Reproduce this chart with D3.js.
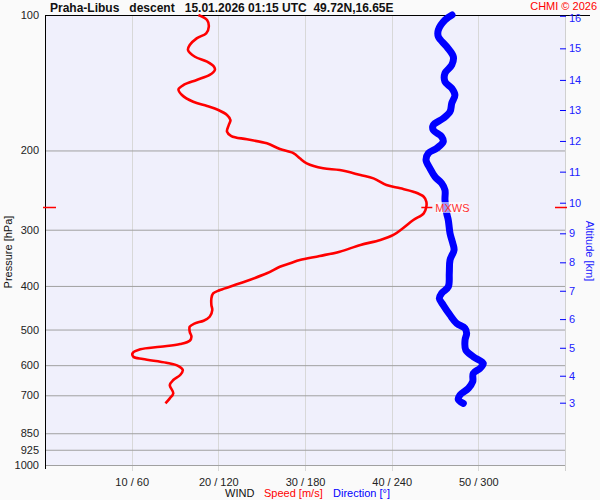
<!DOCTYPE html>
<html>
<head>
<meta charset="utf-8">
<script src="https://cdn.jsdelivr.net/npm/d3@7"></script>
<style>
  body { margin: 0; background: #fafafa; }
  svg { display: block; font-family: "Liberation Sans", Arial, sans-serif; }
</style>
</head>
<body>
<div id="chart"></div>
<script>
// wind speed profile [hPa, m/s]
const speedPressure = [100, 102.6, 106.2, 109.8, 112.7, 116.6, 119.6, 123.8, 127.0, 130.3, 132.5, 135.9, 139.4, 143.0, 146.3, 150.6, 155.9, 159.3, 162.6, 166.8, 171.2, 175.6, 181.7, 185.8, 188.9, 192.8, 198.5, 202.9, 208.2, 213.6, 219.1, 221.1, 226.8, 230.7, 238.7, 242.7, 247.0, 253.4, 260.0, 266.7, 275.9, 285.5, 297.8, 308.2, 316.2, 324.4, 335.7, 343.2, 350.3, 356.3, 362.5, 375.0, 394.7, 408.5, 415.5, 426.3, 441.1, 452.5, 468.3, 478.0, 484.4, 492.9, 505.6, 518.7, 529.5, 538.5, 546.0, 553.3, 564.8, 574.6, 581.5, 592.6, 602.6, 615.1, 631.0, 647.4, 664.2, 693.0, 711.0, 729.5]
const speedValues = [17.7, 18.7, 18.9, 18.6, 17.5, 16.7, 16.5, 17.3, 18.7, 19.5, 19.6, 19.0, 17.5, 16.0, 15.4, 15.8, 17.1, 18.7, 20.0, 21.0, 21.4, 21.2, 21.0, 21.5, 23.3, 25.6, 27.1, 28.7, 29.4, 30.2, 32.1, 34.0, 36.4, 37.9, 39.4, 41.0, 42.5, 43.7, 44.0, 44.0, 43.7, 42.5, 41.3, 40.2, 38.7, 36.4, 34.0, 31.7, 29.4, 28.3, 27.1, 25.6, 22.5, 20.2, 19.4, 19.2, 19.2, 19.3, 19.0, 18.3, 17.3, 16.7, 16.7, 16.9, 16.7, 15.6, 13.3, 11.0, 10.1, 10.2, 11.3, 14.0, 15.4, 15.9, 15.6, 14.8, 14.4, 14.8, 14.4, 13.9]

// wind direction profile [hPa, deg]
const dirPressure = [100, 102.6, 108.0, 111.7, 117.6, 123.8, 129.2, 134.7, 140.6, 145.5, 150.6, 157.1, 164.0, 169.7, 175.6, 180.2, 186.4, 191.2, 197.8, 202.9, 210.1, 219.1, 228.8, 236.6, 244.8, 257.8, 275.9, 285.5, 305.6, 321.6, 332.8, 350.3, 375.0, 401.7, 415.5, 426.3, 441.1, 464.2, 484.4, 496.9, 509.8, 527.6, 555.3, 574.6, 594.3, 609.8, 625.6, 653.1, 675.5, 699.0, 714.5, 729.5]
const dirValues = [281.8, 276.9, 272.3, 272.3, 278.1, 282.7, 281.6, 276.9, 276.9, 281.6, 283.8, 281.6, 280.4, 275.7, 268.8, 268.8, 274.6, 275.7, 271.2, 265.4, 263.8, 266.5, 270.0, 274.6, 276.9, 276.9, 278.1, 279.2, 280.4, 282.3, 283.2, 280.4, 279.9, 279.2, 274.6, 273.0, 275.7, 280.4, 285.0, 290.8, 291.9, 290.8, 291.3, 296.5, 303.4, 301.2, 296.5, 296.1, 293.1, 287.3, 286.1, 289.6]

const pressureTicks = [100, 200, 300, 400, 500, 600, 700, 850, 925, 1000]
const speedTicks = [10, 20, 30, 40, 50]
const altKm = [16, 15, 14, 13, 12, 11, 10, 9, 8, 7, 6, 5, 4, 3]
const altPressure = [100.4, 118.6, 139.4, 162.6, 190.5, 222.9, 261.3, 305.6, 354.5, 410, 474, 548.9, 633.3, 727]

const maxWind = {pressure: 266.7, speed: 44.0}

const W = 600, H = 500
const margin = {top: 15, right: 35, bottom: 35, left: 45}
const x0 = margin.left, x1 = W - margin.right
const y0 = margin.top, y1 = H - margin.bottom

const svg = d3.select("#chart").append("svg")
    .attr("width", W)
    .attr("height", H)

const y = d3.scaleLog().domain([100, 1000]).range([y0, y1])
const xs = d3.scaleLinear().domain([0, 60]).range([x0, x1])
const xd = d3.scaleLinear().domain([0, 360]).range([x0, x1])

svg.append("rect")
    .attr("x", 0).attr("y", 0).attr("width", W).attr("height", H)
    .attr("fill", "#fafafa")

svg.append("rect")
    .attr("x", x0).attr("y", y0)
    .attr("width", x1 - x0).attr("height", y1 - y0)
    .attr("fill", "#f0f0fc")

// vertical grid
svg.append("g").selectAll("line")
    .data(speedTicks)
    .join("line")
        .attr("x1", d => Math.round(xs(d)) + 0.5)
        .attr("x2", d => Math.round(xs(d)) + 0.5)
        .attr("y1", y0)
        .attr("y2", y1 + 6)
        .attr("stroke", "#d8d8d8")

svg.append("line")
    .attr("x1", x1 + 0.5).attr("x2", x1 + 0.5)
    .attr("y1", y0).attr("y2", y1 + 6)
    .attr("stroke", "#d0d0d0")

// pressure axis with horizontal grid
const yAxis = svg.append("g")
    .attr("transform", `translate(${x0},0)`)
    .call(d3.axisLeft(y)
        .tickValues(pressureTicks)
        .tickFormat(d3.format("d"))
        .tickSizeInner(-(x1 - x0))
        .tickSizeOuter(0)
        .tickPadding(6))

yAxis.select(".domain").remove()
yAxis.selectAll(".tick line")
    .attr("stroke", d => d === 100 ? "none" : "#a0a0a0")
yAxis.selectAll(".tick text")
    .attr("font-size", 11)
    .attr("font-family", "Liberation Sans, Arial, sans-serif")
    .attr("fill", "#222")

svg.append("line")
    .attr("x1", x0).attr("x2", 590)
    .attr("y1", y0 + 0.5).attr("y2", y0 + 0.5)
    .attr("stroke", "#000")

svg.append("line")
    .attr("x1", x0 + 0.5).attr("x2", x0 + 0.5)
    .attr("y1", y0).attr("y2", y1 + 4)
    .attr("stroke", "#000")

// bottom labels
const xAxis = svg.append("g")
    .attr("transform", `translate(0,${y1})`)
    .call(d3.axisBottom(xs)
        .tickValues(speedTicks)
        .tickFormat(d => `${d} / ${d * 6}`)
        .tickSize(0)
        .tickPadding(13))

xAxis.select(".domain").remove()
xAxis.selectAll(".tick text")
    .attr("font-size", 11)
    .attr("font-family", "Liberation Sans, Arial, sans-serif")
    .attr("fill", "#222")

// altitude axis
const altAxis = svg.append("g")
    .attr("transform", `translate(${x1 + 1},0)`)
    .call(d3.axisRight(y)
        .tickValues(altPressure)
        .tickFormat((d, i) => altKm[i])
        .tickSizeInner(-6)
        .tickSizeOuter(0)
        .tickPadding(3))

altAxis.select(".domain").remove()
altAxis.selectAll(".tick line").attr("stroke", "#0000ff")
altAxis.selectAll(".tick text")
    .attr("font-size", 11)
    .attr("font-family", "Liberation Sans, Arial, sans-serif")
    .attr("fill", "#2020ff")
    .attr("dy", (d, i) => i === 0 ? "0.5em" : "0.32em")

// profiles
const speedLine = d3.line()
    .x(d => xs(d[1]))
    .y(d => y(d[0]))
    .curve(d3.curveCatmullRom)

const dirLine = d3.line()
    .x(d => xd(d[1]))
    .y(d => y(d[0]))
    .curve(d3.curveCatmullRom)

svg.append("path")
    .datum(d3.zip(dirPressure, dirValues))
    .attr("d", dirLine)
    .attr("fill", "none")
    .attr("stroke", "#0000ff")
    .attr("stroke-width", 7)
    .attr("stroke-linecap", "round")
    .attr("stroke-linejoin", "round")

svg.append("path")
    .datum(d3.zip(speedPressure, speedValues))
    .attr("d", speedLine)
    .attr("fill", "none")
    .attr("stroke", "#ff0000")
    .attr("stroke-width", 2.6)
    .attr("stroke-linejoin", "round")

// max wind marker
const my = Math.round(y(maxWind.pressure)) + 0.5
const mx = xs(maxWind.speed)

svg.append("line")
    .attr("x1", x0 - 2).attr("x2", x0 + 11)
    .attr("y1", my).attr("y2", my)
    .attr("stroke", "#ff0000").attr("stroke-width", 1.5)

svg.append("line")
    .attr("x1", x1 - 10).attr("x2", x1 + 2)
    .attr("y1", my).attr("y2", my)
    .attr("stroke", "#ff0000").attr("stroke-width", 1.5)

svg.append("line")
    .attr("x1", mx - 5).attr("x2", mx + 6)
    .attr("y1", my).attr("y2", my)
    .attr("stroke", "#ff0000").attr("stroke-width", 1.5)

svg.append("rect")
    .attr("x", mx + 9).attr("y", my - 5.5)
    .attr("width", 31).attr("height", 11)
    .attr("fill", "#ffffff").attr("opacity", 0.6)

svg.append("text")
    .attr("x", mx + 9).attr("y", my + 4)
    .attr("font-size", 11)
    .attr("fill", "#ff3030")
    .text("MXWS")

// titles
svg.append("text")
    .attr("x", 50).attr("y", 12)
    .attr("font-size", 12)
    .attr("font-weight", "bold")
    .attr("fill", "#111")
    .style("white-space", "pre")
    .text("Praha-Libus   descent   15.01.2026 01:15 UTC  49.72N,16.65E")

svg.append("text")
    .attr("x", 597).attr("y", 10)
    .attr("text-anchor", "end")
    .attr("font-size", 11)
    .attr("fill", "#ff0000")
    .text("CHMI © 2026")

svg.append("text")
    .attr("transform", `translate(12,252) rotate(-90)`)
    .attr("text-anchor", "middle")
    .attr("font-size", 11)
    .attr("fill", "#111")
    .text("Pressure [hPa]")

svg.append("text")
    .attr("transform", `translate(586,251) rotate(90)`)
    .attr("text-anchor", "middle")
    .attr("font-size", 11)
    .attr("fill", "#2020ff")
    .text("Altitude [km]")

const legend = svg.append("text")
    .attr("y", 497)
    .attr("font-size", 11)
    .style("white-space", "pre")

legend.append("tspan").attr("x", 225).attr("fill", "#111").text("WIND")
legend.append("tspan").attr("x", 264).attr("fill", "#ff0000").text("Speed [m/s]")
legend.append("tspan").attr("x", 333).attr("fill", "#0000ff").text("Direction [°]")
</script>
</body>
</html>
